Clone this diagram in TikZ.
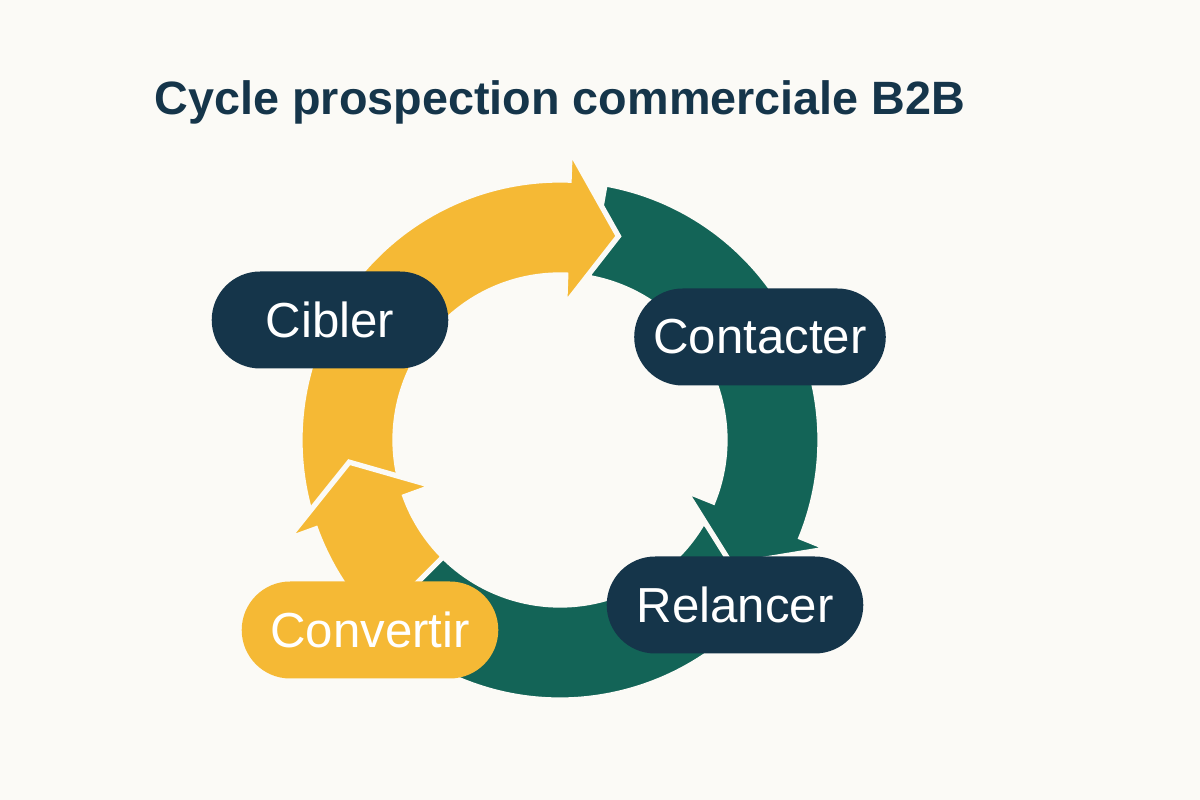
\documentclass[tikz,border=0pt]{standalone}
\usepackage{fontspec}
\setmainfont{Liberation Sans}
\usetikzlibrary{shapes.misc}
\definecolor{navy}{HTML}{15354A}
\definecolor{ringgreen}{HTML}{136457}
\definecolor{ringyellow}{HTML}{F5B935}
\definecolor{paper}{HTML}{FBFAF6}
\tikzset{
stage/.style={shape=rounded rectangle,fill=navy,text=white,minimum height=0.97cm,
  font=\fontsize{14}{16}\selectfont},
seg/.style={draw=paper,line width=1.5pt,line join=miter}
}
% ring segment with an arrow head at its end: #1 colour, #2 start angle, #3 end angle
\newcommand{\ringarrow}[3]{%
\fill[seg,fill=#1] (#2:2.6) arc (#2:#3:2.6) -- (#3:2.9) -- ({#3-14}:2.12)
  -- (#3:1.35) -- (#3:1.65) arc (#3:#2:1.65) -- cycle;}

\begin{document}
\begin{tikzpicture}
\fill[paper] (0,0) rectangle (12,-8);
\useasboundingbox (0,0) rectangle (12,-8);
\node[text=navy,font=\fontsize{13.3}{16}\selectfont\bfseries] (title) at (5.6,-1.02) {Cycle prospection commerciale B2B};

\begin{scope}[shift={(5.6,-4.4)}]
\fill[seg,fill=ringgreen] (-30:2.6) arc (-30:-150:2.6) -- (-150:1.65) arc (-150:-30:1.65) -- cycle;
\ringarrow{ringgreen}{80}{-22}
\ringarrow{ringyellow}{220}{88}
\ringarrow{ringyellow}{225}{200}
\end{scope}

\node[stage,minimum width=2.6cm] (cibler) at (3.3,-3.2) {Cibler};
\node[stage,minimum width=2.75cm] (contacter) at (7.6,-3.37) {Contacter};
\node[stage,minimum width=2.8cm] (relancer) at (7.35,-6.05) {Relancer};
\node[stage,minimum width=2.8cm,fill=ringyellow] (convertir) at (3.7,-6.3) {Convertir};
\end{tikzpicture}
\end{document}
